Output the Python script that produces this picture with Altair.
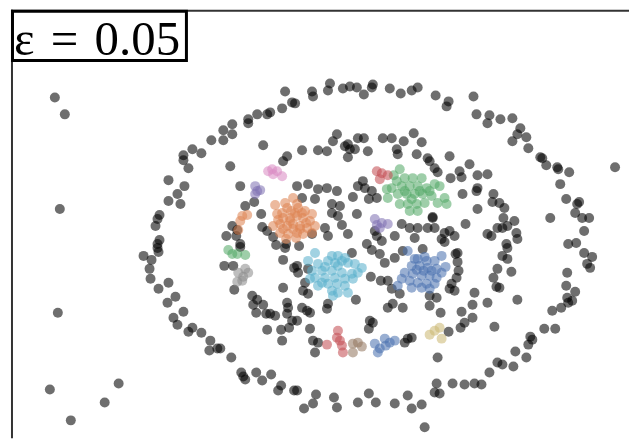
import altair as alt
import pandas as pd

# Point coordinates (horizontal / vertical position, vertical grows downwards)
noise = [
    (54,96),(64,113),(59,208),(57,312),(49,389),(118,383),(104,402),(70,420),(616,166),
    (285,90),(292,101),(282,107),(270,111),(267,113),(257,113),(248,118),(248,122),(232,123),(223,129),
    (232,133),(223,139),(211,139),(192,148),(201,152),(183,154),(183,159),(188,167),(168,179),(184,185),
    (177,193),(168,200),(180,203),(159,214),(157,218),(155,225),(159,239),(157,243),
    (157,247),(143,255),(151,259),(158,251),(149,268),(150,278),(158,288),(168,282),(175,296),(167,302),
    (183,311),(173,317),(177,324),(188,331),(192,327),(201,332),(210,340),(209,350),(217,348),(220,348),
    (231,357),(241,372),(243,376),(245,379),(256,372),(262,380),(271,374),(281,385),(278,390),(294,390),
    (297,390),(304,408),(313,403),(316,394),(334,397),(337,407),(358,402),(369,393),(376,402),(395,403),
    (408,395),(412,408),(422,404),(425,427),(437,383),(435,392),(440,393),(453,383),(465,384),(475,383),
    (482,384),(490,372),(498,362),(503,364),(514,366),(516,351),(527,357),(529,344),(531,336),(533,339),
    (545,328),(556,328),(553,310),(562,307),(569,302),(573,300),(568,297),(576,291),(567,285),(568,272),
    (588,263),(591,267),(593,256),(585,252),(577,242),(569,243),(583,217),(590,217),(585,230),(576,212),
    (578,203),(580,201),(567,198),(561,183),(551,217),(570,171),(559,168),(558,166),(547,164),(541,156),
    (543,157),(529,147),(513,140),(527,136),(518,133),(521,127),(513,117),(501,118),(490,114),(488,122),
    (477,113),(474,95),(449,100),(447,105),(436,94),(418,86),(412,89),(401,92),(390,87),(373,83),(372,86),
    (364,93),(357,86),(350,85),(343,87),(330,82),(328,89),(313,95),(312,90),(295,102),
    (263,144),(287,155),(283,160),(302,149),(318,149),(327,150),(333,140),(337,133),(345,145),(348,143),
    (350,148),(355,148),(348,156),(358,137),(364,137),(368,150),(383,137),(392,137),(404,140),(397,148),
    (398,153),(414,132),(422,141),(417,153),(428,157),(430,160),(450,155),(435,167),(438,171),(451,177),
    (470,163),(460,170),(462,176),(478,174),(488,173),(478,187),(477,190),(463,193),(494,193),(493,201),
    (500,202),(505,207),(478,208),(504,217),(515,220),(498,227),(503,227),(508,225),(466,223),(488,233),
    (492,235),(517,232),(518,238),(455,235),(507,243),(456,253),(445,241),(435,227),(433,216),
    (363,180),(358,185),(365,187),(372,190),(377,197),(369,198),(353,196),(337,190),(327,187),(318,188),
    (315,198),(332,203),(340,205),(332,212),(338,215),(342,224),(325,227),(312,233),(328,235),(348,233),
    (357,213),(302,197),(308,183),(297,185),(375,230),(377,235),(395,235),(402,223),(410,227),(418,227),
    (428,227),(433,217),(442,238),(450,230),(415,237),(382,240),(367,243),(445,232),
    (230,165),(240,185),(245,205),(254,201),(261,213),(232,225),(237,229),(226,235),(236,235),(240,243),
    (267,230),(273,236),(286,243),(276,244),(299,245),(262,226),
    (240,246),(224,265),(233,265),(234,289),(252,295),(257,299),(263,304),(253,304),(256,312),(266,313),
    (270,313),(275,315),(267,329),(281,329),(282,340),(287,302),(288,307),(287,313),(292,320),(289,327),
    (283,287),(283,259),(285,247),(294,267),
    (352,252),(372,249),(380,253),(385,262),(395,257),(403,250),(423,248),(297,265),(298,272),(308,268),
    (305,282),(303,290),(308,293),(371,276),(381,280),(388,280),(392,288),(400,293),(403,307),(356,299),
    (328,303),(327,308),(302,307),(307,310),(310,312),(297,320),(430,305),(441,312),(450,288),(452,283),
    (430,295),(437,297),(388,307),(393,303),(370,320),(373,322),(369,328),(310,328),(313,340),(318,342),
    (315,352),(408,338),(412,337),(405,342),(449,331),(438,357),
    (458,252),(458,261),(459,270),(457,277),(455,290),(475,292),(473,304),(462,311),(473,317),(465,322),
    (461,327),(488,302),(495,326),(518,299),(508,247),(503,255),(508,258),(498,268),(512,271),(494,277),
    (497,286),(500,287),
]

orange_big = [
    (293,197),(275,204),(287,207),(298,207),(305,210),(312,213),(277,213),(283,217),(290,217),(297,215),
    (303,217),(310,220),(315,225),(273,225),(280,223),(287,225),(293,223),(300,225),(307,227),(280,232),
    (288,233),(297,232),(303,233),(312,232),(290,220),(297,203),(285,202),(295,212),(302,212),(282,212),
    (300,228),(293,228),(283,228),(291,210),(306,222),(278,219),(296,237),(286,238),
]
cyan = [
    (315,252),(332,255),(338,255),(328,260),(308,260),(318,263),(338,265),(348,262),(355,263),(362,267),
    (312,270),(322,270),(332,270),(342,272),(352,273),(315,277),(325,277),(335,277),(345,278),(353,278),
    (328,283),(337,283),(345,285),(332,290),(338,292),(348,292),(333,295),(310,278),(322,282),(345,257),
    (325,266),(342,260),(335,262),(358,272),(318,285),
]
blue_big = [
    (408,250),(418,258),(427,260),(435,260),(442,255),(412,265),(420,265),(428,267),(437,268),(442,272),
    (405,272),(413,273),(422,275),(430,275),(437,277),(402,278),(410,280),(418,282),(427,283),(435,283),
    (412,287),(422,287),(398,285),(425,256),(415,258),(424,270),(432,270),(417,269),(446,266),(430,288),
]
green_big = [
    (400,168),(397,180),(405,177),(413,177),(422,177),(392,187),(402,185),(410,185),(418,185),(427,187),
    (435,183),(440,185),(398,193),(407,193),(415,193),(423,193),(432,195),(445,197),(400,203),(408,203),
    (417,203),(425,202),(438,202),(447,203),(410,210),(418,210),(388,197),(387,188),(405,190),(412,198),
    (420,190),(394,174),(430,190),
]
pink = [(272,168),(277,170),(282,175),(268,170),(273,173)]
purple = [(255,185),(257,190),(255,193),(260,189)]
orange_small = [(242,215),(247,214),(240,220),(238,229)]
green_small = [(228,249),(232,253),(237,253),(245,254)]
gray = [(238,272),(243,276),(248,272),(237,281),(242,280),(245,268)]
red_top = [(377,170),(382,172),(388,174),(380,178)]
lavender = [(375,218),(382,222),(388,223),(380,227),(377,224)]
red_bottom = [(338,330),(337,337),(340,340),(342,345),(327,344),(343,352)]
brown = [(353,343),(362,346),(353,352),(358,342)]
blue_small = [(375,343),(385,338),(390,342),(395,340),(380,348),(378,352),(386,345)]
yellow = [(430,334),(440,327),(442,338),(435,330)]

groups = [
    ("noise", noise, "#000000"),
    ("c1", orange_big, "#DD8452"),
    ("c2", cyan, "#5AB0CC"),
    ("c3", blue_big, "#4C72B0"),
    ("c4", green_big, "#55A868"),
    ("c5", pink, "#DA8BC3"),
    ("c6", purple, "#8172B3"),
    ("c7", orange_small, "#DD8452"),
    ("c8", green_small, "#55A868"),
    ("c9", gray, "#8C8C8C"),
    ("c10", red_top, "#C44E52"),
    ("c11", lavender, "#8172B3"),
    ("c12", red_bottom, "#C44E52"),
    ("c13", brown, "#937860"),
    ("c14", blue_small, "#4C72B0"),
    ("c15", yellow, "#CCB974"),
]

rows = []
for name, pts, _ in groups:
    for (px, py) in pts:
        rows.append({"x": px, "y": py, "cluster": name})
df = pd.DataFrame(rows)

W, H = 620, 430

points = alt.Chart(df).mark_circle(size=100, opacity=0.57, strokeWidth=0).encode(
    x=alt.X("x:Q", scale=alt.Scale(domain=[10, 10 + W], nice=False, zero=False), axis=None),
    y=alt.Y("y:Q", scale=alt.Scale(domain=[8, 8 + H], nice=False, zero=False, reverse=True), axis=None),
    color=alt.Color("cluster:N",
                    scale=alt.Scale(domain=[g[0] for g in groups], range=[g[2] for g in groups]),
                    legend=None),
)

label_df = pd.DataFrame({"t": ["ε \u200a= \u200a0.05"]})
base = alt.Chart(label_df)

left_line = base.mark_rule(color="#333333", strokeWidth=2).encode(
    x=alt.value(1), y=alt.value(0), y2=alt.value(H))
top_line = base.mark_rule(color="#333333", strokeWidth=2).encode(
    x=alt.value(0), x2=alt.value(W), y=alt.value(1))

box = base.mark_rect(fill="white", stroke="black", strokeWidth=3).encode(
    x=alt.value(1.5), x2=alt.value(176), y=alt.value(1.5), y2=alt.value(51))
text = base.mark_text(align="left", baseline="alphabetic", font="Liberation Serif",
                      fontSize=49, color="black").encode(
    x=alt.value(3), y=alt.value(45), text="t:N")

chart = alt.layer(points, left_line, top_line, box, text).properties(
    width=W, height=H, padding={"left": 2, "top": 0, "right": 0, "bottom": 0}
).configure_view(stroke=None)

chart.save("out.html", embed_options={"renderer": "svg", "actions": False})
